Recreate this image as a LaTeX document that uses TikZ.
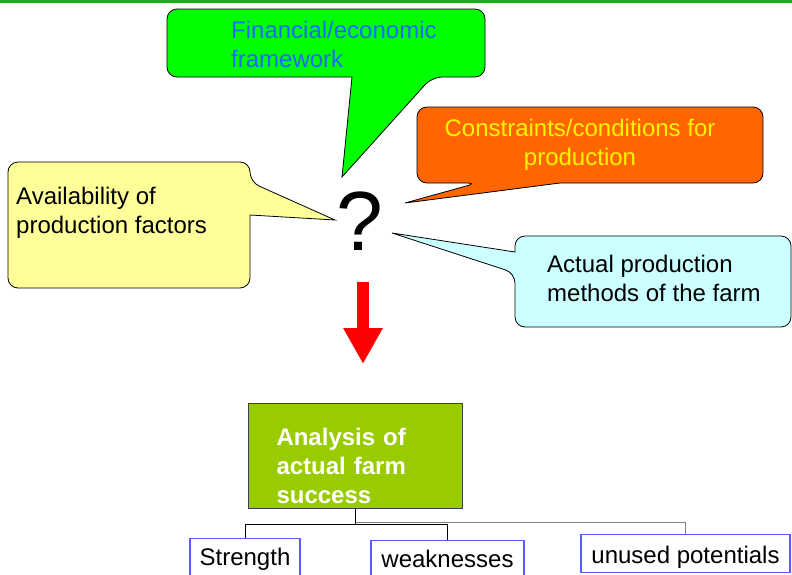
\documentclass[tikz,border=0pt]{standalone}
\usepackage{fontspec}
\setmainfont{Liberation Sans}
\usetikzlibrary{arrows.meta}
\definecolor{topline}{RGB}{24,176,24}
\definecolor{financegreen}{RGB}{0,255,0}
\definecolor{financetext}{RGB}{25,110,245}
\definecolor{constraintorange}{RGB}{255,102,0}
\definecolor{factoryellow}{RGB}{255,255,153}
\definecolor{methodcyan}{RGB}{204,255,255}
\definecolor{analysisgreen}{RGB}{153,204,0}
\definecolor{leafblue}{RGB}{90,90,255}
\newcommand{\bubblefont}{\fontsize{24}{29}\selectfont}

\begin{document}
\begin{tikzpicture}[x=1pt,y=-1pt,
  bubble/.style={draw=black,line width=0.8pt,rounded corners=10pt},
  bubbletext/.style={inner sep=0pt,font=\bubblefont},
  leaf/.style={draw=leafblue,line width=1.2pt,fill=white,inner sep=0pt,font=\bubblefont,
    text height=17pt,text depth=5pt,anchor=north},
  tree/.style={line width=1pt}]
\useasboundingbox (0,0) rectangle (792,574);
\fill[topline] (0,0) rectangle (792,3);

% callouts round the question mark
\path[bubble,fill=financegreen] (352,77) -- (167,77) -- (167,9) -- (485,9) -- (485,77) -- (432,77)
  [sharp corners] -- (342,177) -- cycle;
\path[bubble,fill=constraintorange] (560,183) -- (763,183) -- (763,107) -- (417,107) -- (417,183) -- (477,183)
  [sharp corners] -- (405,203) -- cycle;
\path[bubble,fill=factoryellow] (250,215) -- (250,288) -- (8,288) -- (8,162) -- (250,162) -- (250,182)
  [sharp corners] -- (335,220) -- cycle;
\path[bubble,fill=methodcyan] (515,252) -- (515,236) -- (791,236) -- (791,327) -- (515,327) -- (515,273)
  [sharp corners] -- (392,233) -- cycle;

\node[bubbletext,text=financetext,align=left,anchor=west] (finance) at (231,44) {Financial/economic\\framework};
\node[bubbletext,text=yellow,align=center] (constraints) at (580,145) {Constraints/conditions for\\production};
\node[bubbletext,align=left,anchor=west] (factors) at (16,213) {Availability of\\production factors};
\node[bubbletext,align=left,anchor=west] (methods) at (547,278) {Actual production\\methods of the farm};

\node[inner sep=0pt,font=\fontsize{84}{84}\selectfont,anchor=base] (question) at (360,250) {?};

% red arrow
\coordinate (arrowtop) at (363,282);
\coordinate (arrowtip) at (363,364);
\draw[red,line width=12pt,-{Triangle[length=36pt,width=37pt]}] (arrowtop) -- (arrowtip);

% analysis and its three branches
\node[draw=black!75,line width=1pt,fill=analysisgreen,minimum width=214pt,minimum height=105pt,
  text width=158pt,inner xsep=28pt,inner ysep=0pt,align=left,text=white,font=\bfseries\bubblefont,
  anchor=north west] (analysis) at (248,403) {\rule{0pt}{37.5pt}Analysis of\\actual farm\\success};

\node[leaf,minimum width=110pt,minimum height=42pt] (strength) at (245,538) {Strength};
\node[leaf,minimum width=153pt,minimum height=42pt] (weakness) at (447.5,540) {weaknesses};
\node[leaf,minimum width=209pt,minimum height=38pt,text height=21pt,text depth=1pt] (potential) at (685.5,533.5) {unused potentials};

\draw[tree,gray] (analysis.south) -- ++(0,13) -| (potential.north);
\draw[tree] (analysis.south) -- ++(0,15) -| (strength.north);
\draw[tree] (analysis.south) -- ++(0,15) -| (weakness.north);
\end{tikzpicture}
\end{document}
